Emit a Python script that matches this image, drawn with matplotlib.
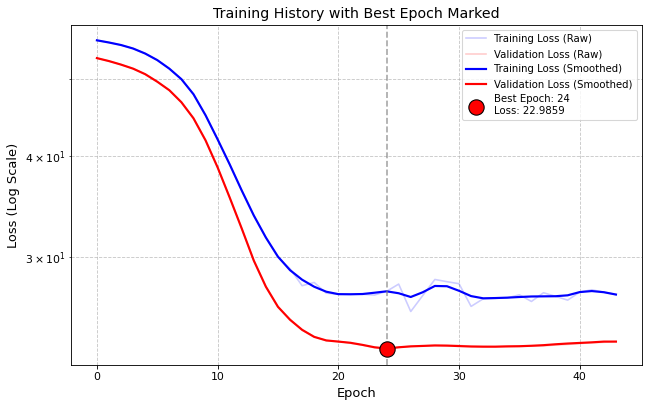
import numpy as np
from matplotlib import pyplot as plt

# values
epochs = np.arange(44)

train_raw = [55.82, 55.47, 55.07, 54.52, 53.74, 52.74, 51.46, 49.93, 47.82, 45.02,
             42.01, 39.10, 36.27, 33.76, 31.69, 29.95, 28.98, 27.60, 27.86, 27.02,
             26.93, 26.95, 26.93, 26.87, 27.16, 27.73, 25.63, 26.84, 28.10, 27.92,
             27.76, 26.01, 26.58, 26.62, 26.65, 26.89, 26.38, 27.05, 26.77, 26.48,
             27.10, 27.28, 27.09, 26.91]

val_raw = [53.04, 52.59, 52.06, 51.46, 50.65, 49.57, 48.37, 46.73, 44.63, 41.89,
           38.76, 35.55, 32.52, 29.66, 27.52, 25.94, 25.08, 24.28, 23.86, 23.56,
           23.53, 23.40, 23.27, 23.10, 22.9859, 23.12, 23.20, 23.22, 23.26, 23.24,
           23.25, 23.20, 23.18, 23.17, 23.18, 23.19, 23.21, 23.22, 23.28, 23.32,
           23.38, 23.43, 23.46, 23.52]

train_smooth = [55.82, 55.47, 55.07, 54.52, 53.74, 52.74, 51.46, 49.93, 47.82, 45.02,
                42.01, 39.10, 36.27, 33.76, 31.69, 30.00, 28.86, 28.08, 27.52, 27.13,
                26.94, 26.93, 26.95, 27.05, 27.16, 27.01, 26.72, 27.09, 27.58, 27.56,
                27.20, 26.79, 26.62, 26.64, 26.67, 26.72, 26.76, 26.77, 26.78, 26.85,
                27.10, 27.18, 27.09, 26.91]

val_smooth = [53.04, 52.59, 52.06, 51.46, 50.65, 49.57, 48.37, 46.73, 44.63, 41.89,
              38.76, 35.55, 32.52, 29.66, 27.52, 25.98, 25.03, 24.32, 23.83, 23.59,
              23.51, 23.43, 23.29, 23.13, 23.05, 23.13, 23.19, 23.22, 23.25, 23.24,
              23.21, 23.18, 23.17, 23.17, 23.19, 23.20, 23.23, 23.27, 23.33, 23.38,
              23.42, 23.46, 23.51, 23.51]

best_epoch = 24
best_loss = 22.9859

fig = plt.figure(figsize=(651 / 78, 401 / 78), dpi=78)
ax = fig.add_axes([0.109, 0.09, 0.877, 0.848])

ax.plot(epochs, train_raw, color="blue", alpha=0.2, lw=1.5, label="Training Loss (Raw)")
ax.plot(epochs, val_raw, color="red", alpha=0.2, lw=1.5, label="Validation Loss (Raw)")
ax.plot(epochs, train_smooth, color="blue", lw=2, label="Training Loss (Smoothed)")
ax.plot(epochs, val_smooth, color="red", lw=2, label="Validation Loss (Smoothed)")

ax.axvline(best_epoch, color="gray", linestyle="--", lw=1.5, alpha=0.7)
ax.scatter([best_epoch], [best_loss], s=200, color="red", edgecolor="black", zorder=5,
           label=f"Best Epoch: {best_epoch}\nLoss: {best_loss:.4f}")

ax.set_yscale("log")
ax.set_title("Training History with Best Epoch Marked", fontsize=13)
ax.set_xlabel("Epoch", fontsize=12)
ax.set_ylabel("Loss (Log Scale)", fontsize=12)
ax.grid(True, which="both", linestyle="--", alpha=0.7)
ax.legend(loc="upper right", fontsize=9.4)

fig.savefig("out.png", dpi=78)
